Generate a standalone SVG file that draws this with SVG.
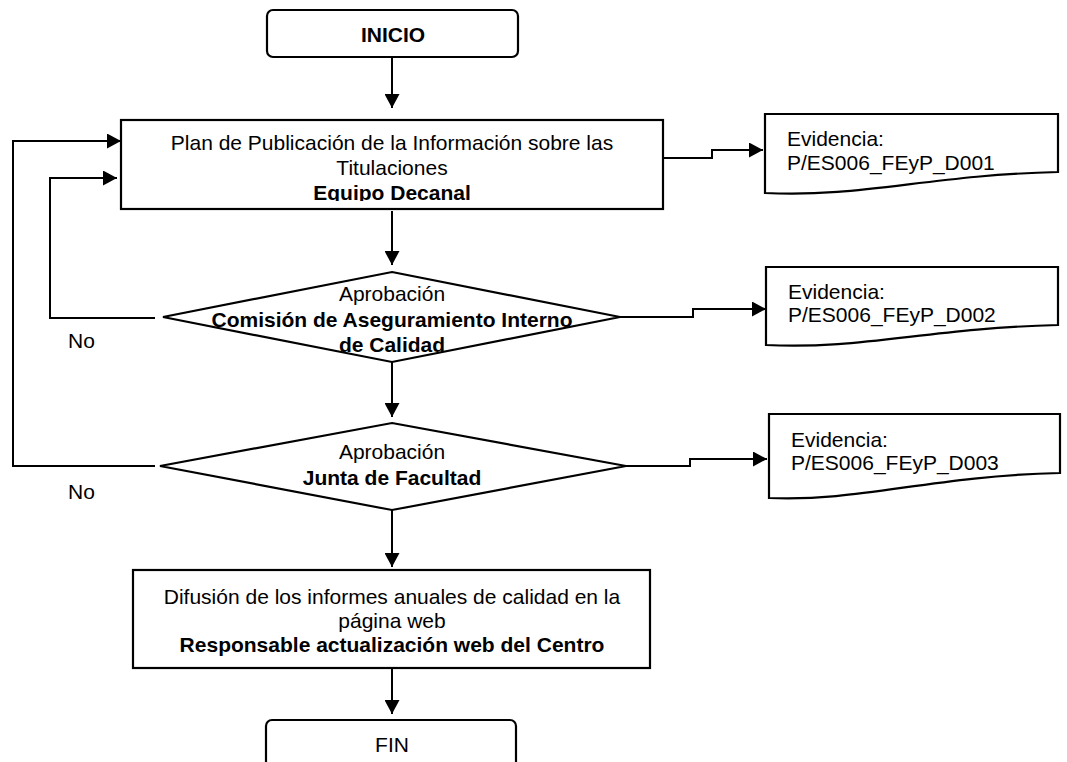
<svg xmlns="http://www.w3.org/2000/svg" width="1067" height="762" viewBox="0 0 1067 762">
<style>
.shape{fill:#fff;stroke:#000;stroke-width:2.2}
.con{fill:none;stroke:#000;stroke-width:2}
text{font-family:"Liberation Sans",Arial,sans-serif;font-size:21px;fill:#000}
.c{text-anchor:middle}
.b{font-weight:bold}
</style>
<defs>
<marker id="ah" markerWidth="15" markerHeight="15" refX="14" refY="7.5" orient="auto" markerUnits="userSpaceOnUse">
<path d="M0,0 L14,7.5 L0,15 Z" fill="#000"/>
</marker>
<clipPath id="clipPlan"><rect x="121" y="120" width="542" height="81"/></clipPath>
</defs>

<g id="connectors">
<path class="con" d="M392,57 V108" marker-end="url(#ah)"/>
<path class="con" d="M392,211 V265" marker-end="url(#ah)"/>
<path class="con" d="M392,362 V417" marker-end="url(#ah)"/>
<path class="con" d="M392,510 V567" marker-end="url(#ah)"/>
<path class="con" d="M392,669 V714" marker-end="url(#ah)"/>
<path class="con" d="M663,158 H712 V150 H763" marker-end="url(#ah)"/>
<path class="con" d="M620,317 H693 V309 H766" marker-end="url(#ah)"/>
<path class="con" d="M626,466 H690 V459 H767" marker-end="url(#ah)"/>
<path class="con" d="M155,318 H50 V178 H117" marker-end="url(#ah)"/>
<path class="con" d="M155,466 H13 V141 H121" marker-end="url(#ah)"/>
</g>

<g id="inicio">
<rect class="shape" x="267" y="10" width="251" height="47" rx="6"/>
<text class="c b" x="393" y="42" font-size="20">INICIO</text>
</g>

<g id="plan">
<rect class="shape" x="121" y="120" width="542" height="89"/>
<g clip-path="url(#clipPlan)">
<text class="c" x="392" y="150">Plan de Publicación de la Información sobre las</text>
<text class="c" x="392" y="175">Titulaciones</text>
<text class="c b" x="392" y="200">Equipo Decanal</text>
</g>
</g>

<g id="evidencia1">
<path class="shape" d="M765,114 H1058 V172 C930,175 860,198 765,193 Z"/>
<text x="787" y="146">Evidencia:</text>
<text x="787" y="170">P/ES006_FEyP_D001</text>
</g>

<g id="aprobacion1">
<polygon class="shape" points="392,272 620,317 392,362 163,317"/>
<text class="c" x="392" y="301">Aprobación</text>
<text class="c b" x="392" y="327">Comisión de Aseguramiento Interno</text>
<text class="c b" x="392" y="352">de Calidad</text>
</g>

<g id="evidencia2">
<path class="shape" d="M766,267 H1058 V325 C930,328 860,350 766,345 Z"/>
<text x="788" y="299">Evidencia:</text>
<text x="788" y="322">P/ES006_FEyP_D002</text>
</g>

<g id="no1"><text x="68" y="348">No</text></g>

<g id="aprobacion2">
<polygon class="shape" points="392,423 626,466 392,510 160,466"/>
<text class="c" x="392" y="459">Aprobación</text>
<text class="c b" x="392" y="485">Junta de Facultad</text>
</g>

<g id="evidencia3">
<path class="shape" d="M769,414 H1060 V473 C930,476 860,502 769,498 Z"/>
<text x="791" y="447">Evidencia:</text>
<text x="791" y="470">P/ES006_FEyP_D003</text>
</g>

<g id="no2"><text x="68" y="499">No</text></g>

<g id="difusion">
<rect class="shape" x="133" y="570" width="517" height="98"/>
<text class="c" x="392" y="604">Difusión de los informes anuales de calidad en la</text>
<text class="c" x="392" y="628">página web</text>
<text class="c b" x="392" y="652">Responsable actualización web del Centro</text>
</g>

<g id="fin">
<rect class="shape" x="266" y="720" width="250" height="60" rx="6"/>
<text class="c" x="392" y="752">FIN</text>
</g>
</svg>
